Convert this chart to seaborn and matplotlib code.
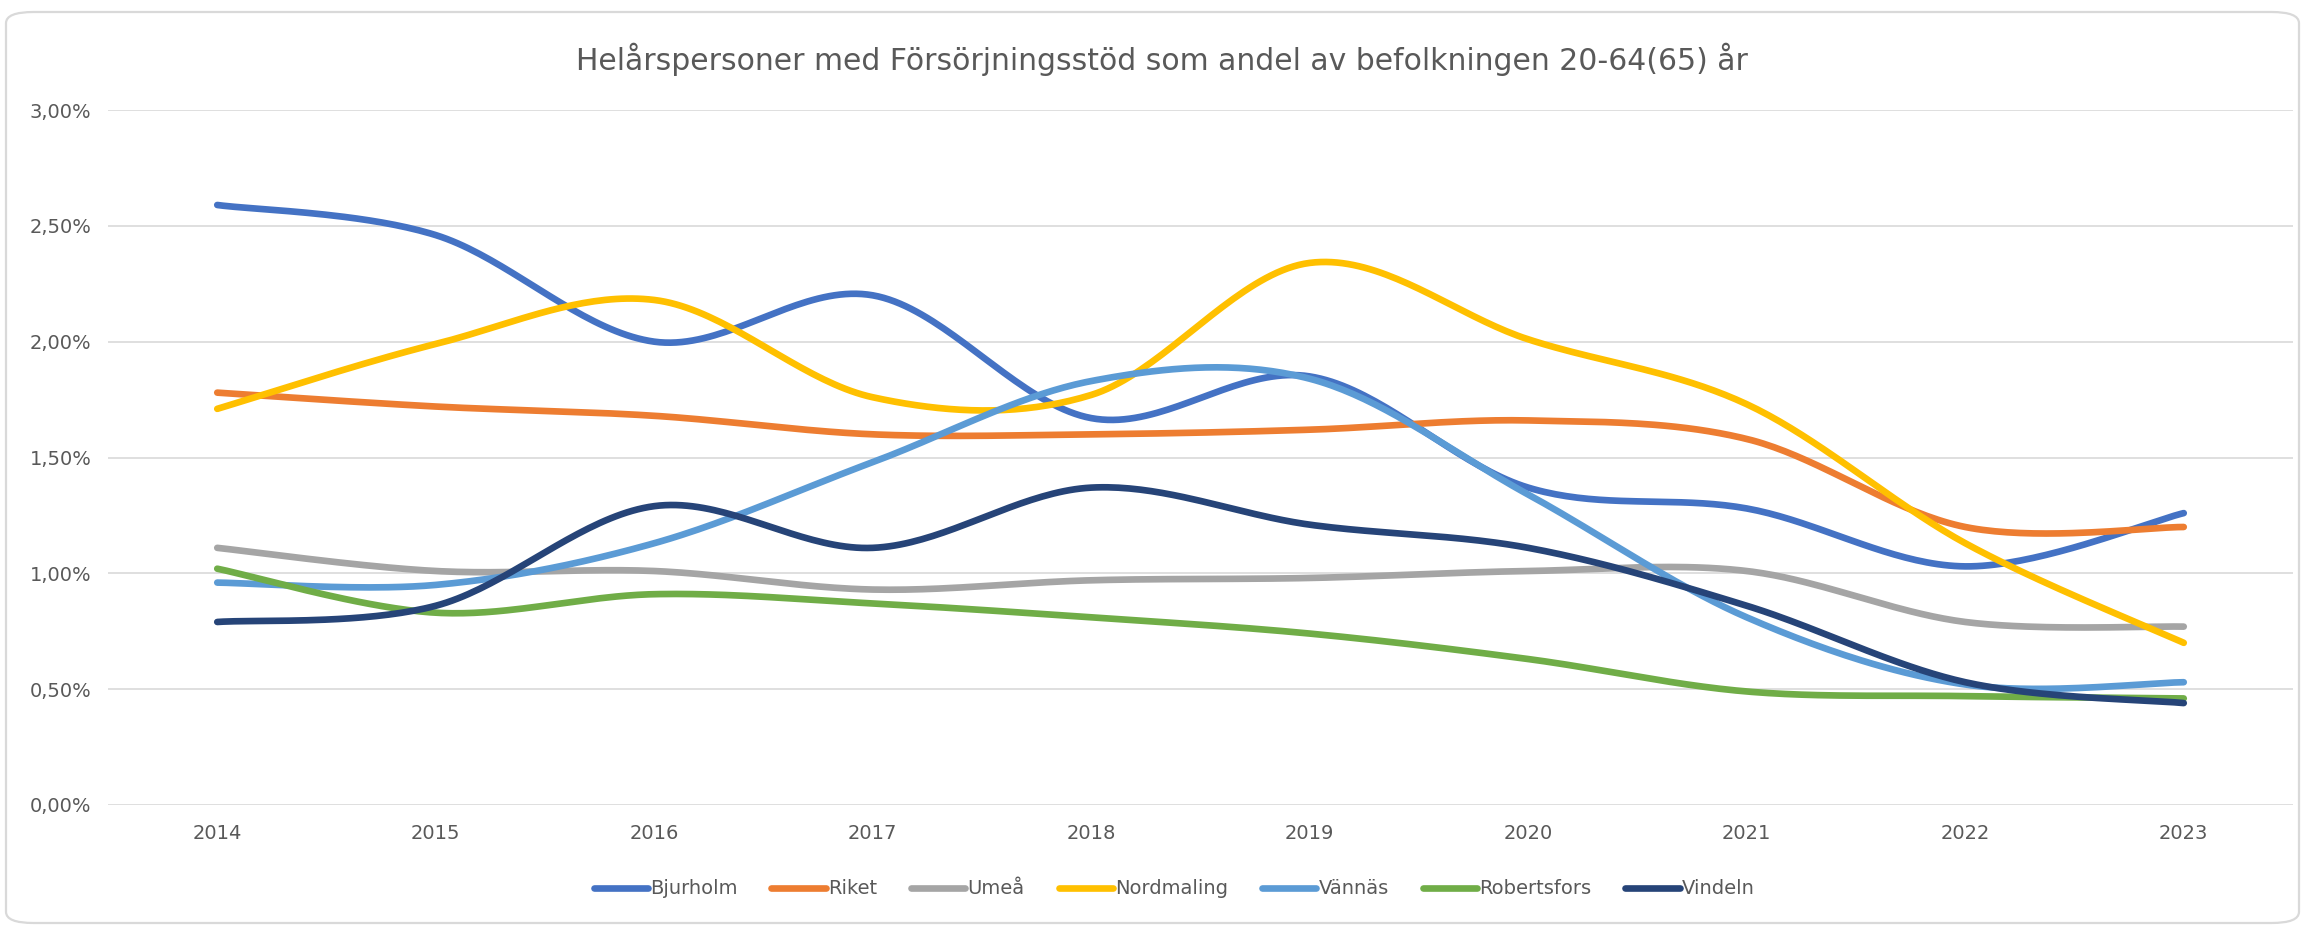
import numpy as np
import pandas as pd
import matplotlib
matplotlib.use("Agg")
import matplotlib.pyplot as plt
import seaborn as sns
from matplotlib.patches import FancyBboxPatch
from matplotlib.lines import Line2D
from matplotlib.ticker import FuncFormatter

# ---- data (percent) ----
years = [2014, 2015, 2016, 2017, 2018, 2019, 2020, 2021, 2022, 2023]
bjurholm    = [2.59, 2.46, 2.00, 2.20, 1.67, 1.85, 1.37, 1.28, 1.03, 1.26]
riket       = [1.78, 1.72, 1.68, 1.60, 1.60, 1.62, 1.66, 1.58, 1.20, 1.20]
umea        = [1.11, 1.01, 1.01, 0.93, 0.97, 0.98, 1.01, 1.01, 0.79, 0.77]
nordmaling  = [1.71, 1.99, 2.18, 1.76, 1.77, 2.34, 2.01, 1.73, 1.13, 0.70]
vannas      = [0.96, 0.95, 1.13, 1.48, 1.83, 1.84, 1.34, 0.81, 0.52, 0.53]
robertsfors = [1.02, 0.83, 0.91, 0.87, 0.81, 0.74, 0.63, 0.49, 0.47, 0.46]
vindeln     = [0.79, 0.86, 1.29, 1.11, 1.37, 1.21, 1.11, 0.86, 0.53, 0.44]

series_names = ["Bjurholm", "Riket", "Umeå", "Nordmaling", "Vännäs", "Robertsfors", "Vindeln"]
series_vals = [bjurholm, riket, umea, nordmaling, vannas, robertsfors, vindeln]
colors = ["#4472C4", "#ED7D31", "#A5A5A5", "#FFC000", "#5B9BD5", "#70AD47", "#264478"]
title = "Helårspersoner med Försörjningsstöd som andel av befolkningen 20-64(65) år"


def smooth_curve(vals, n=40):
    """Excel-like smoothed line (cubic Bezier through every point)."""
    y = np.asarray(vals, dtype=float)
    x = np.arange(len(y), dtype=float)
    P = np.column_stack([x, y])
    Pp = np.vstack([P[0], P, P[-1]])
    xs, ys = [], []
    last = len(y) - 2
    for i in range(len(y) - 1):
        p0 = P[i]
        p3 = P[i + 1]
        c1 = p0 + (Pp[i + 2] - Pp[i]) / 6.0
        c2 = p3 - (Pp[i + 3] - Pp[i + 1]) / 6.0
        t = np.linspace(0, 1, n, endpoint=(i == last))[:, None]
        b = ((1 - t) ** 3) * p0 + 3 * ((1 - t) ** 2) * t * c1 + 3 * (1 - t) * t ** 2 * c2 + t ** 3 * p3
        xs.append(b[:, 0])
        ys.append(b[:, 1])
    return np.concatenate(xs), np.concatenate(ys)


frames = []
for name, vals in zip(series_names, series_vals):
    sx, sy = smooth_curve(vals)
    frames.append(pd.DataFrame({"x": sx, "y": sy, "serie": name}))
df = pd.concat(frames, ignore_index=True)

sns.set_theme(style="white")
plt.rcParams["font.family"] = ["DejaVu Sans"]

W, H = 2303, 927
fig = plt.figure(figsize=(W / 100, H / 100), dpi=100)
fig.patch.set_facecolor("white")

# outer chart border
border = FancyBboxPatch((6 / W, 4 / H), (W - 10) / W, (H - 16) / H,
                        boxstyle="round,pad=0,rounding_size=0.012",
                        transform=fig.transFigure, facecolor="none",
                        edgecolor="#D9D9D9", linewidth=1.6)
fig.patches.append(border)

ax = fig.add_axes([108 / W, 122 / H, (2293 - 108) / W, (805 - 110) / H])
ax.set_facecolor("none")

sns.lineplot(data=df, x="x", y="y", hue="serie", hue_order=series_names,
             palette=dict(zip(series_names, colors)), sort=False, estimator=None,
             linewidth=4.8, solid_capstyle="round", legend=False, ax=ax, zorder=3)

ax.set_xlim(-0.5, len(years) - 0.5)
ax.set_ylim(0, 3.0)
ax.set_xticks(range(len(years)))
ax.set_xticklabels([str(y) for y in years])
ax.set_yticks(np.arange(0, 3.01, 0.5))
ax.yaxis.set_major_formatter(FuncFormatter(lambda v, p: f"{v:.2f}".replace(".", ",") + "%"))
ax.grid(axis="y", color="#D9D9D9", linewidth=1.2, zorder=0)
ax.grid(axis="x", visible=False)
for s in ax.spines.values():
    s.set_visible(False)
ax.tick_params(axis="both", length=0, labelsize=14, colors="#595959")
ax.tick_params(axis="y", pad=12)
ax.tick_params(axis="x", pad=14)
ax.set_xlabel("")
ax.set_ylabel("")

fig.text(1162 / W, 1 - 59 / H, title, ha="center", va="center",
         fontsize=21.5, color="#595959")

handles = [Line2D([0], [0], color=c, linewidth=4.8, solid_capstyle="round") for c in colors]
leg = fig.legend(handles, series_names, loc="center", bbox_to_anchor=(1174 / W, 1 - 889 / H),
                 ncol=7, frameon=False, fontsize=14, handlelength=2.8, handletextpad=0.1,
                 columnspacing=1.75)
for t in leg.get_texts():
    t.set_color("#595959")

fig.savefig("out.png", dpi=100, facecolor="white")
